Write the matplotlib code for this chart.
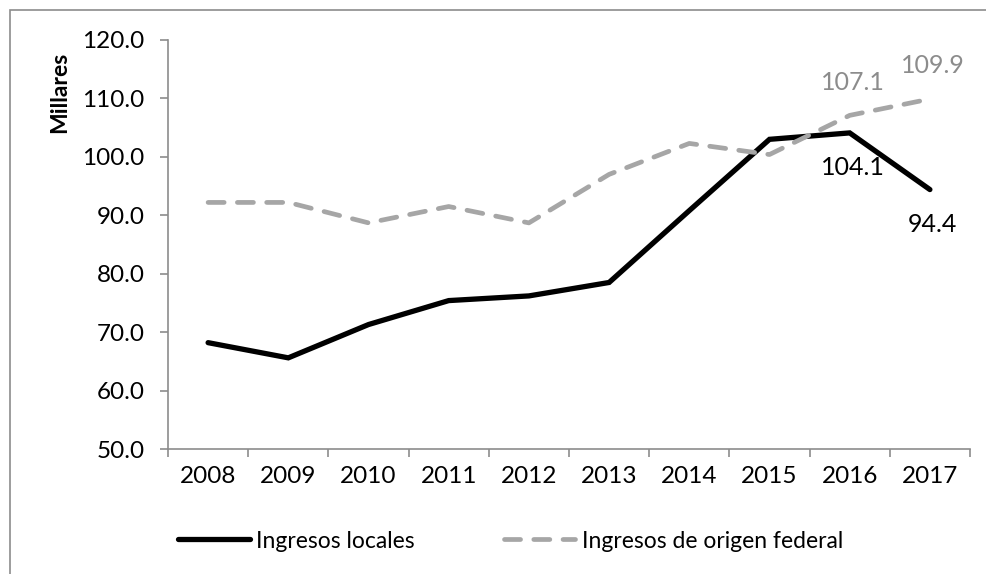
import matplotlib.pyplot as plt
from matplotlib.patches import Rectangle

years = ['2008', '2009', '2010', '2011', '2012', '2013', '2014', '2015', '2016', '2017']
locales = [68.2, 65.6, 71.3, 75.4, 76.2, 78.5, 90.8, 103.0, 104.1, 94.4]
federal = [92.2, 92.2, 88.7, 91.5, 88.7, 97.0, 102.3, 100.4, 107.1, 109.9]

plt.rcParams['font.family'] = ['Lato', 'DejaVu Sans']

fig = plt.figure(figsize=(9.86, 5.74), dpi=100)
ax = fig.add_axes([168 / 986, 1 - 449 / 574, 802 / 986, 409 / 574])

# marco exterior del gráfico
fig.patches.append(Rectangle((10 / 986, -0.1), 1.2, 1 - 10 / 574 + 0.1,
                             transform=fig.transFigure, fill=False,
                             edgecolor='#8c8c8c', linewidth=1.2))

x = range(len(years))
ax.plot(x, locales, color='black', linewidth=3.8, solid_capstyle='round',
        solid_joinstyle='miter', label='Ingresos locales')
ax.plot(x, federal, color='#a6a6a6', linewidth=3.4, linestyle=(0, (3.4, 2.8)),
        dash_capstyle='round', label='Ingresos de origen federal')

ax.set_xlim(-0.5, len(years) - 0.5)
ax.set_ylim(50, 120)
ax.set_yticks(range(50, 121, 10))
ax.set_yticklabels([f'{v:.1f}' for v in range(50, 121, 10)])
ax.set_xticks(x)
ax.set_xticklabels(years)
ax.set_xticks([i - 0.5 for i in range(len(years) + 1)], minor=True)
ax.tick_params(axis='x', which='major', length=0, pad=12, labelsize=17.5)
ax.tick_params(axis='x', which='minor', length=6, color='#8c8c8c', width=1.2)
ax.tick_params(axis='y', length=6, color='#8c8c8c', width=1.2, labelsize=17.5, pad=11)

for s in ['top', 'right']:
    ax.spines[s].set_visible(False)
for s in ['left', 'bottom']:
    ax.spines[s].set_color('#8c8c8c')
    ax.spines[s].set_linewidth(1.2)

fig.text(60 / 986, 1 - 92 / 574, 'Millares', rotation=90, ha='center', va='center',
         fontsize=16.5, fontweight='bold')

# etiquetas de datos
for i in [8, 9]:
    ax.annotate(f'{federal[i]:.1f}', (i, federal[i]), xytext=(2, 24),
                textcoords='offset points', ha='center', va='center',
                fontsize=18, color='#8c8c8c')
    ax.annotate(f'{locales[i]:.1f}', (i, locales[i]), xytext=(2, -25),
                textcoords='offset points', ha='center', va='center',
                fontsize=18, color='black')

fig.legend(loc='center', bbox_to_anchor=(511 / 986, 1 - 541 / 574), ncol=2,
           frameon=False, fontsize=16.5, handlelength=3.1, columnspacing=3.9,
           handletextpad=0.3)

fig.savefig('out.png', dpi=100)
